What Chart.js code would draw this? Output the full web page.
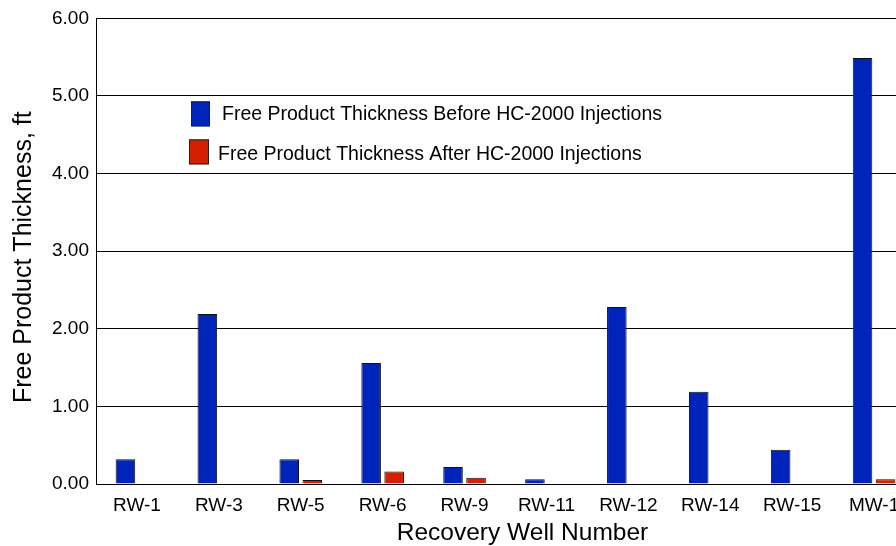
<!DOCTYPE html>
<html><head><meta charset="utf-8">
<script src="https://cdn.jsdelivr.net/npm/chart.js@4/dist/chart.umd.min.js"></script>
<style>
html,body{margin:0;padding:0;overflow:hidden;background:#fff;width:896px;height:546px}
#wrap{position:absolute;left:0;top:0;width:915px;height:546px}
</style>
</head><body><div id="wrap"><canvas id="c"></canvas></div>
<script>
const wells = ['RW-1','RW-3','RW-5','RW-6','RW-9','RW-11','RW-12','RW-14','RW-15','MW-1'];
const beforeVals = [0.32, 2.19, 0.32, 1.56, 0.22, 0.06, 2.28, 1.19, 0.44, 5.49];
const afterVals = [null, null, 0.05, 0.16, 0.08, null, null, null, null, 0.06];
const seriesNames = ['Free Product Thickness Before HC-2000 Injections', 'Free Product Thickness After HC-2000 Injections'];
const yTickValues = [0, 1, 2, 3, 4, 5, 6];
const yTitle = 'Free Product Thickness, ft';
const xTitle = 'Recovery Well Number';

const FONT = '"Liberation Sans", Arial, sans-serif';
const BLUE = 'rgb(0,35,185)';
const RED = 'rgb(212,32,0)';

const legendPlugin = {
  id: 'insideLegend',
  afterDraw(chart) {
    const ctx = chart.ctx, a = chart.chartArea;
    ctx.save();
    const items = [
      {box: [a.left + 95, a.top + 83, 19, 25], tx: a.left + 126, ty: a.top + 96},
      {box: [a.left + 93, a.top + 121, 20, 25], tx: a.left + 122, ty: a.top + 136}
    ];
    chart.data.datasets.forEach((ds, i) => {
      const it = items[i];
      ctx.fillStyle = ds.backgroundColor;
      ctx.fillRect(...it.box);
      ctx.strokeStyle = '#222';
      ctx.lineWidth = 1;
      ctx.strokeRect(it.box[0] + 0.5, it.box[1] + 0.5, it.box[2] - 1, it.box[3] - 1);
      ctx.fillStyle = '#000';
      ctx.font = '19.5px ' + FONT;
      ctx.textBaseline = 'middle';
      ctx.textAlign = 'left';
      ctx.fillText(ds.label, it.tx, it.ty);
    });
    // x-axis title
    ctx.font = '24.5px ' + FONT;
    ctx.textAlign = 'center';
    ctx.textBaseline = 'alphabetic';
    ctx.fillText(xTitle, (a.left + a.right) / 2 + 17, a.bottom + 56);
    // y-axis title
    ctx.translate(24, (a.top + a.bottom) / 2 + 6);
    ctx.rotate(-Math.PI / 2);
    ctx.font = '25px ' + FONT;
    ctx.textBaseline = 'middle';
    ctx.fillText(yTitle, 0, 0);
    ctx.restore();
  }
};

new Chart(document.getElementById('c'), {
  type: 'bar',
  data: {
    labels: wells,
    datasets: [
      {label: seriesNames[0], data: beforeVals, backgroundColor: BLUE, borderColor: '#111', borderWidth: 1},
      {label: seriesNames[1], data: afterVals, backgroundColor: RED, borderColor: '#111', borderWidth: 1}
    ]
  },
  options: {
    responsive: true,
    maintainAspectRatio: false,
    animation: false,
    categoryPercentage: 0.5624,
    barPercentage: 0.85,
    layout: {padding: {top: 16, right: 0, bottom: 0, left: 0}},
    plugins: {legend: {display: false}, tooltip: {enabled: false}},
    scales: {
      x: {
        grid: {display: false, drawTicks: false},
        border: {display: true, color: '#000', width: 1},
        ticks: {font: {family: FONT, size: 19}, color: '#000', padding: 10, maxRotation: 0, autoSkip: false},
        afterFit(s) { s.height = 62; }
      },
      y: {
        min: 0, max: 6,
        afterBuildTicks(s) { s.ticks = yTickValues.map(v => ({value: v})); },
        ticks: {font: {family: FONT, size: 19}, color: '#000', padding: 7, callback: v => Number(v).toFixed(2)},
        grid: {color: '#000', lineWidth: 1, drawTicks: false},
        border: {display: true, color: '#000', width: 1},
        afterFit(s) { s.width = 96; }
      }
    }
  },
  plugins: [legendPlugin]
});
</script>
</body></html>
